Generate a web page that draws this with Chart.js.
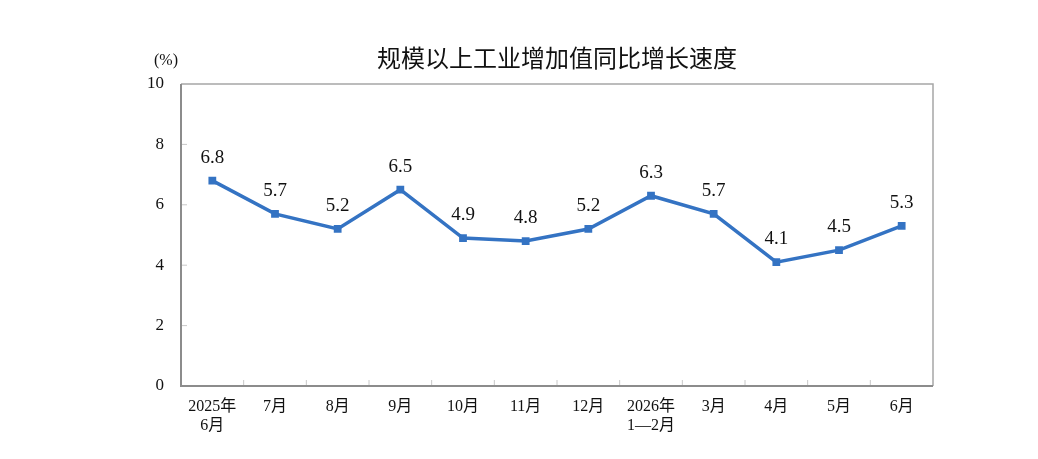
<!DOCTYPE html>
<html><head><meta charset="utf-8">
<script src="https://cdn.jsdelivr.net/npm/chart.js@4.4.1/dist/chart.umd.min.js"></script>
<style>html,body{margin:0;padding:0;background:#fff;}canvas{display:block;}</style>
</head><body>
<canvas id="c" width="1038" height="459"></canvas>
<script>
const categories = [["2025年","6月"],"7月","8月","9月","10月","11月","12月",["2026年","1—2月"],"3月","4月","5月","6月"];
const values = [6.8,5.7,5.2,6.5,4.9,4.8,5.2,6.3,5.7,4.1,4.5,5.3];
const yTicks = [0,2,4,6,8,10];
const titleText = "规模以上工业增加值同比增长速度";
const unitText = "(%)";

const serif = "'Liberation Serif','Noto Sans CJK SC',serif";
const lineColor = "#3473c3";

const decor = {
  id:'decor',
  afterDraw(chart){
    const {ctx, chartArea:a, scales:{x,y}} = chart;
    ctx.save();
    ctx.strokeStyle="#a6a6a6"; ctx.lineWidth=1.5;
    ctx.beginPath(); ctx.moveTo(a.left,a.top); ctx.lineTo(a.right,a.top); ctx.lineTo(a.right,a.bottom); ctx.stroke();
    ctx.strokeStyle="#c8c8c8"; ctx.lineWidth=1;
    for(let i=1;i<categories.length;i++){
      const px = (x.getPixelForValue(i-1)+x.getPixelForValue(i))/2;
      ctx.beginPath(); ctx.moveTo(px,a.bottom); ctx.lineTo(px,a.bottom-6); ctx.stroke();
    }
    yTicks.forEach(v=>{ if(v===0||v===10) return; const py=y.getPixelForValue(v);
      ctx.beginPath(); ctx.moveTo(a.left,py); ctx.lineTo(a.left+6,py); ctx.stroke(); });
    ctx.strokeStyle="#8c8c8c"; ctx.lineWidth=2;
    ctx.beginPath(); ctx.moveTo(a.left,a.top); ctx.lineTo(a.left,a.bottom); ctx.lineTo(a.right,a.bottom); ctx.stroke();
    ctx.fillStyle="#111"; ctx.textAlign="center"; ctx.textBaseline="middle";
    ctx.font="400 24px 'Noto Sans CJK SC',sans-serif";
    ctx.fillText(titleText, 557, 58);
    ctx.font="16px "+serif;
    ctx.fillText(unitText, 166, 61);
    ctx.font="19px "+serif;
    const meta = chart.getDatasetMeta(0);
    meta.data.forEach((pt,i)=>{ ctx.fillText(values[i].toFixed(1), pt.x, pt.y-23); });
    ctx.restore();
  }
};

new Chart(document.getElementById('c'),{
  type:'line',
  data:{labels:categories,datasets:[{data:values,borderColor:lineColor,backgroundColor:lineColor,borderWidth:3.5,
    pointStyle:'rect',pointRadius:5.5,pointBorderWidth:0,pointHoverRadius:5.5,tension:0}]},
  options:{
    responsive:false,animation:false,devicePixelRatio:1,
    layout:{padding:{left:0,right:105,top:84,bottom:0}},
    plugins:{legend:{display:false},title:{display:false},tooltip:{enabled:false}},
    scales:{
      x:{offset:true,grid:{display:false,drawTicks:false},border:{display:false},
        ticks:{color:"#111",font:{family:serif,size:16},padding:11,maxRotation:0,autoSkip:false},
        afterFit(s){s.height=73;}},
      y:{min:0,max:10,grid:{display:false,drawTicks:false},border:{display:false},
        afterBuildTicks(s){s.ticks=yTicks.map(v=>({value:v}));},
        ticks:{color:"#111",font:{family:serif,size:17},padding:17},
        afterFit(s){s.width=181;}}
    }
  },
  plugins:[decor]
});
</script>
</body></html>
